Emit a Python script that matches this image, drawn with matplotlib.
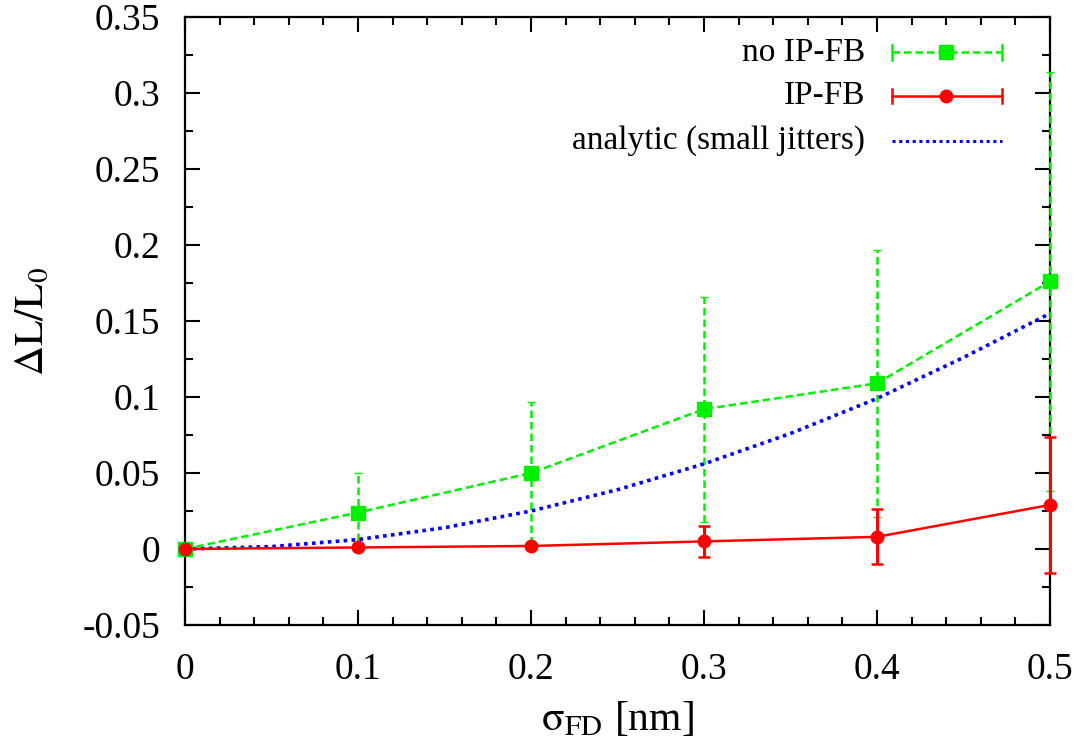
import matplotlib
matplotlib.use("Agg")
import matplotlib.pyplot as plt
from matplotlib.lines import Line2D
from matplotlib.ticker import MultipleLocator, FuncFormatter

# jitter amplitude of the final doublet [nm]
sigma_fd = [0.0, 0.1, 0.2, 0.3, 0.4, 0.5]

# relative luminosity loss without IP feedback
loss_no_fb = [0.0, 0.024, 0.050, 0.092, 0.109, 0.176]
err_no_fb = [0.0, 0.026, 0.047, 0.074, 0.088, 0.138]

# relative luminosity loss with IP feedback
loss_fb = [0.0, 0.001, 0.002, 0.005, 0.008, 0.029]
err_fb = [0.0, 0.001, 0.001, 0.010, 0.018, 0.045]

# analytic estimate for small jitters
sigma_an = [0.0, 0.05, 0.1, 0.15, 0.2, 0.25, 0.3, 0.35, 0.4, 0.45, 0.5]
loss_an = [0.0, 0.0016, 0.0062, 0.014, 0.025, 0.039, 0.056, 0.076, 0.099, 0.126, 0.155]

labels = ["no IP-FB", "IP-FB", "analytic (small jitters)"]

GREEN = "#00f000"
RED = "#ff0000"
BLUE = "#0000ff"

plt.rcParams["font.family"] = ["Liberation Serif", "DejaVu Serif"]
plt.rcParams["mathtext.fontset"] = "stix"

fig = plt.figure(figsize=(10.81, 7.51), dpi=100)
ax = fig.add_axes([185 / 1081, (751 - 625) / 751, 865 / 1081, 608 / 751])

ax.errorbar(sigma_fd, loss_no_fb, yerr=err_no_fb, color=GREEN, lw=1.8,
            ls=(0, (3, 1.6)), marker="s", ms=9.5, capsize=3, elinewidth=1.8,
            clip_on=False, zorder=3)
ax.errorbar(sigma_fd, loss_fb, yerr=err_fb, color=RED, lw=1.8, ls="-",
            marker="o", ms=9, capsize=4, elinewidth=2.2, capthick=1.8,
            clip_on=False, zorder=4)
ax.plot(sigma_an, loss_an, color=BLUE, lw=2.6, ls=(0, (1, 1.2)), zorder=3)

# error-bar lines of the no-FB series are dashed like the line itself
for c in ax.containers[0].lines[2]:
    c.set_linestyle((0, (3, 1.6)))

ax.set_xlim(0, 0.5)
ax.set_ylim(-0.05, 0.35)
ax.xaxis.set_major_locator(MultipleLocator(0.1))
ax.xaxis.set_minor_locator(MultipleLocator(0.02))
ax.yaxis.set_major_locator(MultipleLocator(0.05))
ax.yaxis.set_minor_locator(MultipleLocator(0.025))
fmt = FuncFormatter(lambda v, p: "%g" % round(v, 3))
ax.xaxis.set_major_formatter(fmt)
ax.yaxis.set_major_formatter(fmt)
ax.tick_params(which="both", direction="in", top=True, right=True,
               labelsize=27, width=1.5)
ax.tick_params(axis="x", pad=20)
ax.tick_params(axis="y", pad=18)
ax.tick_params(which="major", length=11)
ax.tick_params(which="minor", length=6)
for s in ax.spines.values():
    s.set_linewidth(1.6)

ax.set_xlabel(r"$\mathrm{\sigma_{FD}}$ [nm]", fontsize=30)
ax.set_ylabel(r"$\mathrm{\Delta L/L_0}$", fontsize=30)
ax.xaxis.set_label_coords(0.5, (625 - 700) / 608)
ax.yaxis.set_label_coords((52 - 185) / 865, 0.5)

# legend: text right-aligned, sample line to its right
tr = ax.transAxes
rows = [0.942, 0.870, 0.796]
x_text, x0, x1, xm = 0.786, 0.817, 0.945, 0.880
ax.text(x_text, rows[0], labels[0], transform=tr, ha="right", va="center", fontsize=24)
ax.text(x_text, rows[1], labels[1], transform=tr, ha="right", va="center", fontsize=24)
ax.text(x_text, rows[2], labels[2], transform=tr, ha="right", va="center", fontsize=24)
ax.add_line(Line2D([x0, x1], [rows[0]] * 2, transform=tr, color=GREEN, lw=1.8,
                   ls=(0, (3, 1.6))))
ax.add_line(Line2D([xm], [rows[0]], transform=tr, color=GREEN, marker="s", ms=9.5))
ax.add_line(Line2D([x0, x1], [rows[1]] * 2, transform=tr, color=RED, lw=1.8))
ax.add_line(Line2D([xm], [rows[1]], transform=tr, color=RED, marker="o", ms=9))
for xe in (x0, x1):
    for r, col in ((rows[0], GREEN), (rows[1], RED)):
        ax.add_line(Line2D([xe, xe], [r - 0.012, r + 0.012], transform=tr,
                           color=col, lw=1.8))
ax.add_line(Line2D([x0, x1], [rows[2]] * 2, transform=tr, color=BLUE, lw=2.2,
                   ls=(0, (1, 1.2))))

fig.savefig("out.png", dpi=100)
